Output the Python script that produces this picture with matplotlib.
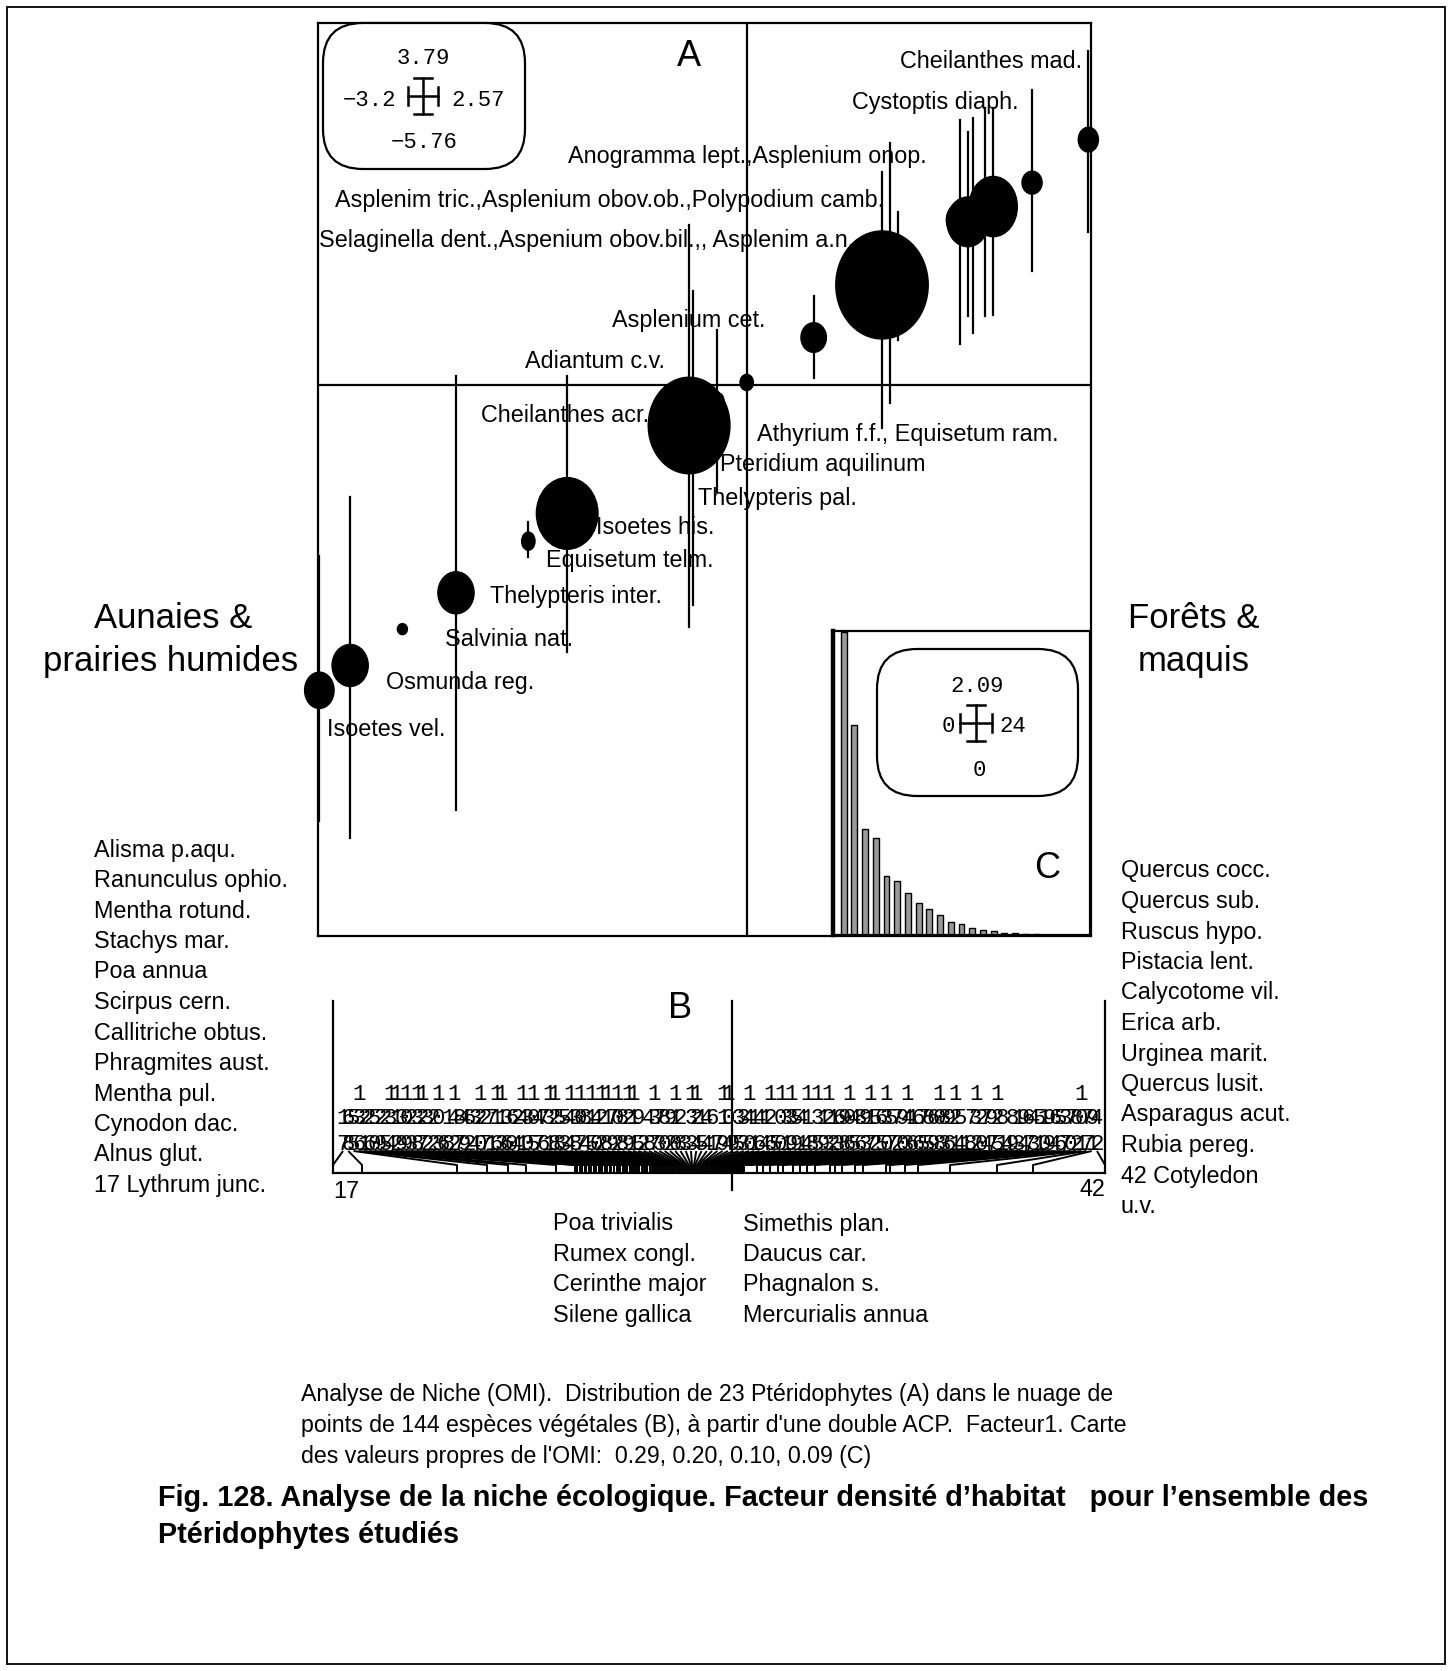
import numpy as np
import matplotlib
matplotlib.use("Agg")
import matplotlib.pyplot as plt
from matplotlib.patches import Ellipse, FancyBboxPatch, Rectangle
from matplotlib.collections import LineCollection
from matplotlib import font_manager

# ---------- panel A : pteridophytes on the OMI factorial map ----------
a_x = [-3.19, -2.96, -2.57, -2.17, -1.63, -1.34, -0.43, -0.40, -0.22, 0.00, 0.50,
       1.01, 1.07, 1.13, 1.59, 1.65, 1.69, 1.78, 1.84, 2.13, 2.55]
a_y = [-3.19, -2.93, -2.55, -2.17, -1.63, -1.34, -0.42, -0.30, -0.16, 0.03, 0.50,
       1.05, 1.05, 1.00, 1.73, 1.71, 1.77, 1.85, 1.87, 2.12, 2.57]
a_w = [0.22, 0.27, 0.075, 0.27, 0.10, 0.46, 0.61, 0.09, 0.10, 0.10, 0.19,
       0.69, 0.10, 0.10, 0.20, 0.31, 0.25, 0.20, 0.36, 0.15, 0.15]
a_h = [0.38, 0.44, 0.115, 0.44, 0.19, 0.75, 1.01, 0.13, 0.17, 0.17, 0.31,
       1.13, 0.15, 0.15, 0.35, 0.52, 0.40, 0.40, 0.63, 0.24, 0.26]
a_top = [-1.78, -1.17, None, 0.10, -1.43, 0.10, 1.68, 0.99, 0.58, None, 0.93,
         2.23, 2.54, 1.81, 2.78, 2.65, 2.80, 2.90, 2.90, 3.09, 3.50]
a_bot = [-4.56, -4.73, None, -4.44, -1.80, -2.79, -2.53, -2.30, -1.12, None, 0.08,
         -0.45, -0.18, 0.47, 0.43, 0.73, 0.55, 0.73, 0.74, 1.20, 1.60]

a_names = ["Cheilanthes mad.", "Cystoptis diaph.",
           "Anogramma lept.,Asplenium onop.",
           "Asplenim tric.,Asplenium obov.ob.,Polypodium camb.",
           "Selaginella dent.,Aspenium obov.bil.,, Asplenim a.n.",
           "Asplenium cet.", "Adiantum c.v.", "Cheilanthes acr.",
           "Athyrium f.f., Equisetum ram.", "Pteridium aquilinum",
           "Thelypteris pal.", "Isoetes his.", "Equisetum telm.",
           "Thelypteris inter.", "Salvinia nat.", "Osmunda reg.", "Isoetes vel."]

# ---------- panel B : 144 plant species ranked on factor 1 ----------
b_ids = [17, 68, 55, 136, 21, 26, 50, 29, 25, 134, 112, 39, 109, 23, 138, 127, 32, 22,
         103, 6, 18, 142, 87, 49, 62, 34, 120, 27, 71, 116, 113, 36, 60, 24, 141, 30,
         105, 47, 76, 131, 128, 58, 53, 144, 38, 107, 84, 115, 40, 122, 118, 79, 102,
         88, 129, 111, 95, 2, 48, 137, 73, 80, 92, 110, 28, 3, 133, 124, 15, 44, 61,
         7, 119, 104, 9, 35, 33, 140, 11, 46, 14, 126, 5, 100, 31, 139, 59, 41, 114,
         8, 135, 19, 123, 12, 63, 98, 106, 45, 86, 93, 117, 52, 65, 130, 57, 72, 90,
         143, 16, 66, 75, 85, 69, 108, 83, 96, 121, 54, 1, 78, 132, 20, 74, 97, 125,
         81, 4, 89, 13, 94, 67, 43, 51, 10, 99, 64, 56, 37, 70, 82, 101, 77, 91, 42]
b_scores = [-3.99, -3.70, -2.75, -2.45, -2.24, -2.06, -1.76,
            -1.57, -1.55, -1.52, -1.50, -1.47, -1.46, -1.43, -1.41, -1.38, -1.36,
            -1.33, -1.31, -1.30, -1.27, -1.25, -1.22, -1.21, -1.18, -1.15, -1.13,
            -1.12, -1.09, -1.07, -1.05, -1.02, -1.00, -0.98, -0.96, -0.95, -0.93,
            -0.90, -0.88, -0.87, -0.85, -0.82, -0.80, -0.79, -0.77, -0.75, -0.73,
            -0.71, -0.70, -0.68, -0.66, -0.64, -0.63, -0.61, -0.59, -0.58, -0.56,
            -0.54, -0.53, -0.51, -0.49, -0.48, -0.46, -0.45, -0.43, -0.41, -0.40,
            -0.38, -0.37, -0.35, -0.34, -0.32, -0.31, -0.29, -0.28, -0.26, -0.25,
            -0.24, -0.22, -0.21, -0.19, -0.18, -0.17, -0.15, -0.14, -0.13, -0.11,
            -0.10, -0.09, -0.08, -0.07, -0.06, -0.05, -0.04, -0.03, -0.02, -0.01,
            0.00, 0.00, 0.01, 0.01, 0.02, 0.02, 0.03, 0.03, 0.04, 0.04,
            0.05, 0.05, 0.06, 0.06, 0.07, 0.07, 0.08, 0.08, 0.09, 0.09,
            0.10, 0.10, 0.11, 0.11, 0.12,
            0.25, 0.31, 0.38, 0.46, 0.51, 0.61, 0.68, 0.75, 0.83, 0.98, 1.03,
            1.10, 1.23, 1.31, 1.54, 1.58, 1.73, 1.86, 2.18, 2.65, 3.01, 3.73]

left_species = ["Alisma p.aqu.", "Ranunculus ophio.", "Mentha rotund.", "Stachys mar.",
                "Poa annua", "Scirpus cern.", "Callitriche obtus.", "Phragmites aust.",
                "Mentha pul.", "Cynodon dac.", "Alnus glut.", "17 Lythrum junc."]
right_species = ["Quercus cocc.", "Quercus sub.", "Ruscus hypo.", "Pistacia lent.",
                 "Calycotome vil.", "Erica arb.", "Urginea marit.", "Quercus lusit.",
                 "Asparagus acut.", "Rubia pereg.", "42 Cotyledon", "u.v."]
mid_left_species = ["Poa trivialis", "Rumex congl.", "Cerinthe major", "Silene gallica"]
mid_right_species = ["Simethis plan.", "Daucus car.", "Phagnalon s.", "Mercurialis annua"]

# ---------- panel C : OMI eigenvalues ----------
c_eig = [2.09, 1.45, 0.73, 0.67, 0.41, 0.37, 0.29, 0.22, 0.18, 0.14, 0.093, 0.074,
         0.051, 0.033, 0.028, 0.012, 0.012, 0.005, 0.004, 0.003, 0.002, 0.001, 0.001]

caption = ["Analyse de Niche (OMI).  Distribution de 23 Ptéridophytes (A) dans le nuage de",
           "points de 144 espèces végétales (B), à partir d'une double ACP.  Facteur1. Carte",
           "des valeurs propres de l'OMI:  0.29, 0.20, 0.10, 0.09 (C)"]
title = ["Fig. 128. Analyse de la niche écologique. Facteur densité d\u2019habitat   pour l\u2019ensemble des",
         "Ptéridophytes étudiés"]

# ---------- fonts ----------
have = {f.name for f in font_manager.fontManager.ttflist}
NARROW = "Liberation Sans Narrow" if "Liberation Sans Narrow" in have else "Liberation Sans"
ns = 1.0 if NARROW == "Liberation Sans Narrow" else 0.84
SANS = "Liberation Sans"
MONO = "Liberation Mono"

W, H = 1452, 1671
fig = plt.figure(figsize=(W / 100, H / 100), dpi=100)


def box(x0, y0, x1, y1):
    return [x0 / W, 1 - y1 / H, (x1 - x0) / W, (y1 - y0) / H]


ax0 = fig.add_axes([0, 0, 1, 1])
ax0.set_xlim(0, W)
ax0.set_ylim(H, 0)
ax0.axis("off")
ax0.add_patch(Rectangle((7, 7), W - 14, H - 14, fill=False, lw=1.3, ec="k"))


def cross(ax, cx, cy, hw, hh, t):
    kw = dict(color="k", lw=1.8, transform=ax0.transData, clip_on=False, zorder=7)
    ax.plot([cx - hw, cx + hw], [cy, cy], **kw)
    ax.plot([cx, cx], [cy - hh, cy + hh], **kw)
    ax.plot([cx - hw, cx - hw], [cy - t, cy + t], **kw)
    ax.plot([cx + hw, cx + hw], [cy - t, cy + t], **kw)
    ax.plot([cx - t, cx + t], [cy - hh, cy - hh], **kw)
    ax.plot([cx - t, cx + t], [cy + hh, cy + hh], **kw)


# ---------- panel A ----------
axA = fig.add_axes(box(318, 23, 1091, 936))
axA.set_xlim(-3.2, 2.57)
axA.set_ylim(-5.76, 3.79)
axA.set_facecolor("none")
axA.set_xticks([])
axA.set_yticks([])
for s in axA.spines.values():
    s.set_linewidth(1.6)
axA.axhline(0, color="k", lw=1.6, zorder=2)
axA.axvline(0, color="k", lw=1.6, zorder=2)
for i in range(len(a_x)):
    if a_top[i] is not None:
        axA.plot([a_x[i], a_x[i]], [a_top[i], a_bot[i]], color="k", lw=1.6, zorder=3,
                 clip_on=False)
    axA.add_patch(Ellipse((a_x[i], a_y[i]), a_w[i], a_h[i], fc="k", ec="k", zorder=4,
                          clip_on=False))

a_label_xy = [(1082, 61, "right"), (852, 103, "left"), (568, 157, "left"),
              (335, 200, "left"), (319, 240, "left"), (612, 320, "left"),
              (525, 362, "left"), (481, 415, "left"), (757, 434, "left"),
              (720, 465, "left"), (698, 499, "left"), (596, 528, "left"),
              (546, 561, "left"), (490, 597, "left"), (445, 640, "left"),
              (386, 683, "left"), (327, 729, "left")]
for name, (x, y, ha) in zip(a_names, a_label_xy):
    axA.text(x, y, name, transform=ax0.transData, ha=ha, va="center",
             family=NARROW, fontsize=20 * ns, zorder=1)

axA.add_patch(FancyBboxPatch((323, 23), 202, 146, boxstyle="round,pad=0,rounding_size=40",
                             fc="white", ec="k", lw=1.6, transform=ax0.transData,
                             clip_on=False, zorder=5))
mono = dict(family=MONO, fontsize=16, transform=ax0.transData, zorder=6, va="center")
axA.text(423, 59, "3.79", ha="center", **mono)
axA.text(396, 100, "\u22123.2", ha="right", **mono)
axA.text(451, 100, "2.57", ha="left", **mono)
axA.text(424, 143, "\u22125.76", ha="center", **mono)
cross(axA, 423, 96, 15, 18, 9)
axA.text(689, 57, "A", transform=ax0.transData, ha="center", va="center",
         family=SANS, fontsize=26, zorder=6)

# ---------- panel C ----------
axC = fig.add_axes(box(833, 631, 1090, 935))
axC.bar(np.arange(1, len(c_eig) + 1), c_eig, width=0.55, color="#9a9a9a", ec="k", lw=1.0)
axC.set_xlim(0, 24)
axC.set_ylim(0, 2.10)
axC.set_xticks([])
axC.set_yticks([])
for s in axC.spines.values():
    s.set_linewidth(1.6)
axC.spines["left"].set_linewidth(3.2)
axC.add_patch(FancyBboxPatch((877, 649), 201, 147, boxstyle="round,pad=0,rounding_size=40",
                             fc="white", ec="k", lw=1.6, transform=ax0.transData,
                             clip_on=False, zorder=5))
axC.text(977, 687, "2.09", ha="center", **mono)
axC.text(955, 727, "0", ha="right", **mono)
axC.text(999, 727, "24", ha="left", **mono)
axC.text(979, 771, "0", ha="center", **mono)
cross(axC, 976, 723, 16, 18, 9)
axC.text(1047, 869, "C", transform=ax0.transData, ha="center", va="center",
         family=SANS, fontsize=26, zorder=6)

# ---------- panel B ----------
axB = fig.add_axes(box(333, 990, 1105, 1200))
lo, hi = min(b_scores), max(b_scores)
axB.set_xlim(lo, hi)
axB.set_ylim(1200, 990)
axB.axis("off")
kw = dict(color="k", lw=1.6, clip_on=False)
axB.plot([lo, lo], [1001, 1173], **kw)
axB.plot([hi, hi], [1001, 1173], **kw)
axB.plot([0, 0], [1001, 1190], **kw)
axB.plot([lo, hi], [1173, 1173], **kw)

lab_x = np.linspace(lo + 0.10, hi - 0.08, len(b_ids))
rows = [1144, 1119, 1094]
for lx, lab in zip(lab_x, b_ids):
    for k, ch in enumerate(str(lab)[::-1]):
        axB.text(lx, rows[k], ch, ha="center", va="center", family=MONO, fontsize=16)
segs = [[(lx, 1151), (sc, 1165), (sc, 1173)] for lx, sc in zip(lab_x, b_scores)]
axB.add_collection(LineCollection(segs, colors="k", linewidths=1.4))
ax0.text(680, 1008, "B", ha="center", va="center", family=SANS, fontsize=26)

ax0.text(333, 1192, "17", ha="left", va="center", family=NARROW, fontsize=20 * ns)
ax0.text(1105, 1189, "42", ha="right", va="center", family=NARROW, fontsize=20 * ns)

# ---------- side texts ----------
side = dict(ha="center", va="center", family=SANS, fontsize=25)
ax0.text(173, 618, "Aunaies &", **side)
ax0.text(171, 661, "prairies humides", **side)
ax0.text(1194, 618, "Forêts &", **side)
ax0.text(1194, 662, "maquis", **side)

lst = dict(ha="left", va="center", family=NARROW, fontsize=20 * ns)
for k, name in enumerate(left_species):
    ax0.text(94, 850 + 30.5 * k, name, **lst)
for k, name in enumerate(right_species):
    ax0.text(1121, 871 + 30.5 * k, name, **lst)
for k, name in enumerate(mid_left_species):
    ax0.text(553, 1224 + 30.5 * k, name, **lst)
for k, name in enumerate(mid_right_species):
    ax0.text(743, 1224 + 30.5 * k, name, **lst)

# ---------- captions ----------
for k, line in enumerate(caption):
    ax0.text(301, 1394 + 31.5 * k, line, ha="left", va="center", family=NARROW, fontsize=16.7)
for k, line in enumerate(title):
    ax0.text(158, 1498 + 37 * k, line, ha="left", va="center", family=SANS,
             fontsize=20.8, fontweight="bold")

fig.savefig("out.png", dpi=100)
